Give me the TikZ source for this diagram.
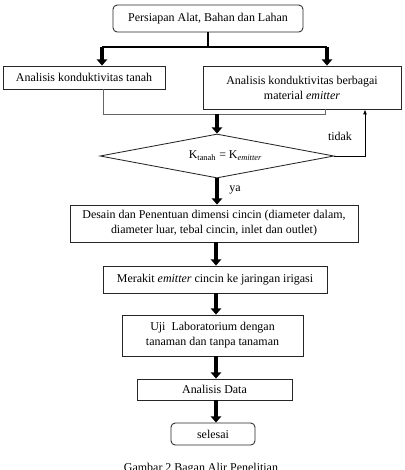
\documentclass[tikz,border=0pt]{standalone}
\usepackage{fontspec}
\setmainfont{Liberation Serif}
\usepackage{tikz}
\usetikzlibrary{
    arrows.meta,
    positioning,
    shapes.geometric
}

\begin{document}
\begin{tikzpicture}[
    x=0.025cm, y=-0.025cm,
    box/.style={
        rectangle,
        draw=black!85,
        line width=0.6pt,
        align=center,
        font=\fontsize{8.5}{10.6}\selectfont,
        inner sep=1pt
    },
    rbox/.style={box, rounded corners=3pt},
    decision/.style={
        diamond,
        draw=black!85,
        line width=0.6pt,
        aspect=5.3,
        inner sep=0pt,
        font=\fontsize{8.5}{10.6}\selectfont
    },
    bigarrow/.style={line width=2.6pt, -{Triangle[length=4.5pt,width=7.5pt]}},
    bar/.style={line width=1.6pt},
    merge/.style={line width=0.6pt, draw=black!60},
    thinarrow/.style={line width=0.6pt, -{Latex[length=3.5pt,width=2.8pt]}},
    lbl/.style={font=\fontsize{8.5}{10.6}\selectfont}
]
\useasboundingbox (0,0) rectangle (405,470);

% ============================================================
% NODES
% ============================================================

% Start
\node[rbox, minimum width=190*0.025cm, minimum height=27*0.025cm] (mulai) at (208,18.5)
    {Persiapan Alat, Bahan dan Lahan};

% Two analyses
\node[box, minimum width=162*0.025cm, minimum height=23*0.025cm] (tanah) at (84,77.5)
    {Analisis konduktivitas tanah};
\node[box, minimum width=198*0.025cm, minimum height=43*0.025cm] (bahan) at (302,87.5)
    {Analisis konduktivitas berbagai\\material \textit{emitter}};

% Decision
\node[decision, minimum width=234*0.025cm, minimum height=44*0.025cm] (cek) at (217,156)
    {\hspace*{12pt}K\textsubscript{tanah} = K\textsubscript{\textit{emitter}}};

% Process chain
\node[box, minimum width=288*0.025cm, minimum height=37*0.025cm] (desain) at (214,223.5)
    {Desain dan Penentuan dimensi cincin (diameter dalam,\\diameter luar, tebal cincin, inlet dan outlet)};
\node[box, minimum width=224*0.025cm, minimum height=27*0.025cm] (rakit) at (215,279.5)
    {Merakit \textit{emitter} cincin ke jaringan irigasi};
\node[box, minimum width=181*0.025cm, minimum height=41*0.025cm] (uji) at (212.5,335.5)
    {Uji\ \ Laboratorium dengan\\tanaman dan tanpa tanaman};
\node[box, minimum width=155*0.025cm, minimum height=21*0.025cm] (data) at (214.5,389.5)
    {Analisis Data};
\node[rbox, minimum width=84*0.025cm, minimum height=22*0.025cm] (selesai) at (213,434)
    {selesai};

% Caption (cut by the page edge)
\node[lbl, anchor=base] (judul) at (201,471) {Gambar 2 Bagan Alir Penelitian};

% ============================================================
% CONNECTORS
% ============================================================

% Split after start
\coordinate (pisah)  at (208,47);
\coordinate (pisahL) at (102,47);
\coordinate (pisahR) at (327,47);
\draw[bar] (mulai.south) -- (pisah);
\draw[bar] (pisahL) -- (pisahR);
\draw[bigarrow] (pisahL) -- (pisahL |- tanah.north);
\draw[bigarrow] (pisahR) -- (pisahR |- bahan.north);

% Merge into decision
\coordinate (gabungL) at (103,114);
\coordinate (gabungR) at (325,114);
\coordinate (gabung)  at (217,114);
\draw[merge] (gabungL |- tanah.south) -- (gabungL) -- (gabungR) -- (gabungR |- bahan.south);
\draw[bigarrow] (gabung) -- (cek.north);

% Loop back (tidak)
\coordinate (balik) at (365,156);
\draw[thinarrow] (cek.east) -- (balik) -- (balik |- bahan.south);
\node[lbl] (tidak) at (340,136) {tidak};

% Main chain
\draw[bigarrow] (cek.south) -- (cek.south |- desain.north);
\node[lbl] (ya) at (235,190) {ya};
\draw[bigarrow] (216,0 |- desain.south) -- (216,0 |- rakit.north);
\draw[bigarrow] (216,0 |- rakit.south) -- (216,0 |- uji.north);
\draw[bigarrow] (216,0 |- uji.south) -- (216,0 |- data.north);
\draw[bigarrow] (216,0 |- data.south) -- (216,0 |- selesai.north);

\end{tikzpicture}
\end{document}
